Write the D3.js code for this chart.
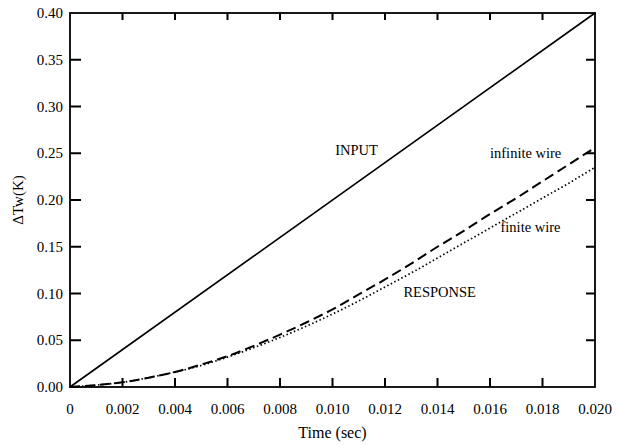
<!DOCTYPE html>
<html>
<head>
<meta charset="utf-8">
<script src="https://cdn.jsdelivr.net/npm/d3@7"></script>
<style>
  body { margin: 0; background: #fff; }
  text { font-family: "Liberation Serif", "DejaVu Serif", serif; fill: #000; }
</style>
</head>
<body>
<svg id="chart" width="619" height="445"></svg>
<script>
// data
const timeTicks = [0, 0.002, 0.004, 0.006, 0.008, 0.010, 0.012, 0.014, 0.016, 0.018, 0.020];
const tempTicks = [0, 0.05, 0.10, 0.15, 0.20, 0.25, 0.30, 0.35, 0.40];

const inputT = [0, 0.020];
const inputV = [0, 0.40];

const respT = [0, 0.001, 0.002, 0.003, 0.004, 0.005, 0.006, 0.007, 0.008, 0.009, 0.010,
  0.011, 0.012, 0.013, 0.014, 0.015, 0.016, 0.017, 0.018, 0.019, 0.020];
const infiniteV = [0, 0.002, 0.005, 0.010, 0.016, 0.024, 0.033, 0.044, 0.056, 0.069, 0.083,
  0.099, 0.115, 0.132, 0.150, 0.167, 0.185, 0.202, 0.220, 0.238, 0.256];
const finiteV = [0, 0.002, 0.005, 0.010, 0.016, 0.023, 0.032, 0.042, 0.053, 0.065, 0.078,
  0.092, 0.107, 0.122, 0.138, 0.154, 0.170, 0.186, 0.202, 0.218, 0.235];

const labels = [
  { text: "INPUT", t: 0.0101, v: 0.248 },
  { text: "infinite wire", t: 0.0160, v: 0.245 },
  { text: "finite wire", t: 0.0164, v: 0.166 },
  { text: "RESPONSE", t: 0.0127, v: 0.096 }
];

const svg = d3.select("#chart");
const mLeft = 70, mRight = 595, mTop = 13, mBottom = 387;

const x = d3.scaleLinear().domain([0, 0.020]).range([mLeft, mRight]);
const y = d3.scaleLinear().domain([0, 0.40]).range([mBottom, mTop]);

// frame
svg.append("rect")
  .attr("x", mLeft).attr("y", mTop)
  .attr("width", mRight - mLeft).attr("height", mBottom - mTop)
  .attr("fill", "none").attr("stroke", "#000").attr("stroke-width", 1.8);

// inward ticks on all four sides, one path
const tk = d3.path();
tempTicks.slice(1, -1).forEach(v => {
  tk.moveTo(mLeft, y(v)); tk.lineTo(mLeft + 11, y(v));
  tk.moveTo(mRight, y(v)); tk.lineTo(mRight - 9, y(v));
});
timeTicks.slice(1, -1).forEach(t => {
  tk.moveTo(x(t), mBottom); tk.lineTo(x(t), mBottom - 9);
  tk.moveTo(x(t), mTop); tk.lineTo(x(t), mTop + 7);
});
svg.append("path")
  .attr("d", tk.toString())
  .attr("fill", "none").attr("stroke", "#000").attr("stroke-width", 2);

// tick labels
svg.selectAll("text.yl").data(tempTicks).join("text")
  .attr("class", "yl")
  .attr("x", mLeft - 7).attr("y", d => y(d) + 5)
  .attr("text-anchor", "end").attr("font-size", 15)
  .text(d => d.toFixed(2));
svg.selectAll("text.xl").data(timeTicks).join("text")
  .attr("class", "xl")
  .attr("x", d => x(d)).attr("y", 414)
  .attr("text-anchor", "middle").attr("font-size", 15)
  .text(d => d === 0 ? "0" : d.toFixed(3));

// axis titles
svg.append("text")
  .attr("transform", "translate(23," + y(0.20) + ") rotate(-90)")
  .attr("text-anchor", "middle").attr("font-size", 15)
  .text("\u0394Tw(K)");
svg.append("text")
  .attr("x", x(0.010)).attr("y", 438)
  .attr("text-anchor", "middle").attr("font-size", 16)
  .text("Time (sec)");

// curves
const lineGen = d3.line().x(d => x(d[0])).y(d => y(d[1])).curve(d3.curveMonotoneX);

svg.append("path")
  .datum(d3.zip(inputT, inputV))
  .attr("d", lineGen).attr("fill", "none")
  .attr("stroke", "#000").attr("stroke-width", 1.7);

svg.append("path")
  .datum(d3.zip(respT, infiniteV))
  .attr("d", lineGen).attr("fill", "none")
  .attr("stroke", "#000").attr("stroke-width", 2)
  .attr("stroke-dasharray", "10,5");

svg.append("path")
  .datum(d3.zip(respT, finiteV))
  .attr("d", lineGen).attr("fill", "none")
  .attr("stroke", "#000").attr("stroke-width", 1.7)
  .attr("stroke-dasharray", "1.5,2.5");

// curve labels
svg.selectAll("text.lab").data(labels).join("text")
  .attr("class", "lab")
  .attr("x", d => x(d.t)).attr("y", d => y(d.v))
  .attr("font-size", 14.5)
  .text(d => d.text);
</script>
</body>
</html>
